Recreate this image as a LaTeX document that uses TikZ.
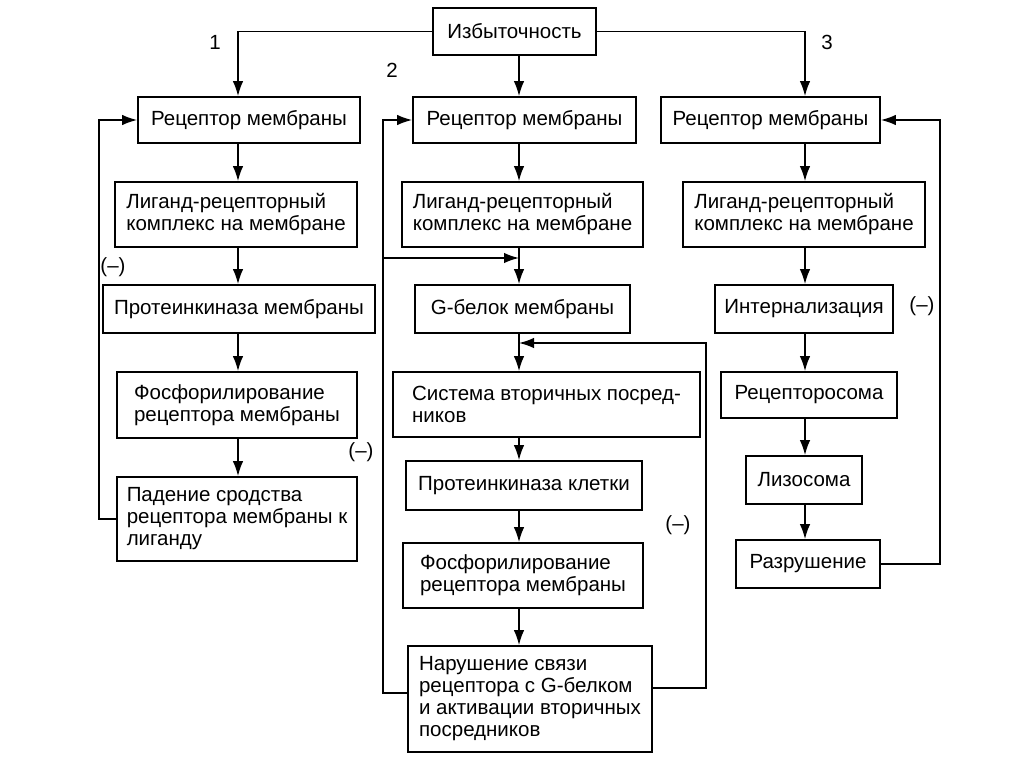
\documentclass[tikz,border=0pt]{standalone}
\usepackage{fontspec}
\setmainfont{Liberation Sans}
\usetikzlibrary{arrows.meta}

\begin{document}
\begin{tikzpicture}[
	x=1pt, y=-1pt,
	box/.style={draw, line width=1.7pt, align=left, inner sep=0pt,
		font=\fontsize{20.5}{22}\selectfont},
	pile/.style={line width=1.6pt, -{Latex[length=15pt,width=10.5pt]}},
	lbl/.style={font=\fontsize{20.5}{22}\selectfont},
	every node/.style={color=black}
	]
	\useasboundingbox (0,0) rectangle (1024,767);
	% columns
	\coordinate (c1) at (238,0);
	\coordinate (c2) at (519,0);
	\coordinate (c3) at (805,0);
	\coordinate (fb1) at (99,0);
	\coordinate (fb2) at (383,0);
	\coordinate (fb3) at (706,0);
	\coordinate (fb4) at (940,0);
	\coordinate (jn1) at (519,258);
	\coordinate (jn2) at (519,343);
	% top
	\node[box, minimum width=163, minimum height=47] (top) at (514.5,31.5) {Избыточность};
	% way 1
	\node[box, minimum width=222, minimum height=46] (a1) at (249,120) {Рецептор мембраны};
	\node[box, minimum width=242, minimum height=65] (a2) at (236,214.5) {Лиганд-рецепторный\\комплекс на мембране};
	\node[box, minimum width=272, minimum height=48] (a3) at (239,309) {Протеинкиназа мембраны};
	\node[box, minimum width=240, minimum height=66] (a4) at (237,405) {Фосфорилирование\\рецептора мембраны};
	\node[box, minimum width=240, minimum height=84] (a5) at (237,519) {Падение сродства\\рецептора мембраны к\\лиганду};
	% way 2
	\node[box, minimum width=223, minimum height=46] (b1) at (524.5,120) {Рецептор мембраны};
	\node[box, minimum width=241, minimum height=65] (b2) at (522.5,214.5) {Лиганд-рецепторный\\комплекс на мембране};
	\node[box, minimum width=215, minimum height=48] (b3) at (522.5,309) {G-белок мембраны};
	\node[box, minimum width=307, minimum height=65] (b4) at (546.5,404.5) {Система вторичных посред-\\ников};
	\node[box, minimum width=236, minimum height=49] (b5) at (524,485.5) {Протеинкиназа клетки};
	\node[box, minimum width=240, minimum height=65] (b6) at (523,575.5) {Фосфорилирование\\рецептора мембраны};
	\node[box, minimum width=244, minimum height=106] (b7) at (530,699) {Нарушение связи\\рецептора с G-белком\\и активации вторичных\\посредников};
	% way 3
	\node[box, minimum width=219, minimum height=46] (c1b) at (770.5,120) {Рецептор мембраны};
	\node[box, minimum width=242, minimum height=65] (c2b) at (804,214.5) {Лиганд-рецепторный\\комплекс на мембране};
	\node[box, minimum width=178, minimum height=48] (c3b) at (804,309) {Интернализация};
	\node[box, minimum width=176, minimum height=46] (c4b) at (809,395) {Рецепторосома};
	\node[box, minimum width=116, minimum height=48] (c5b) at (804,480) {Лизосома};
	\node[box, minimum width=144, minimum height=48] (c6b) at (808,564) {Разрушение};
	% labels
	\node[lbl] (n1) at (215,42) {1};
	\node[lbl] (n2) at (392,70) {2};
	\node[lbl] (n3) at (827,42) {3};
	\node[lbl] (m1) at (113,267) {(–)};
	\node[lbl] (m2) at (361,452) {(–)};
	\node[lbl] (m3) at (678,525) {(–)};
	\node[lbl] (m4) at (922,306) {(–)};
	% from top
	\draw[pile] (top.west) -| (a1.north -| c1);
	\draw[pile] (top.south -| c2) -- (b1.north -| c2);
	\draw[pile] (top.east) -| (c1b.north -| c3);
	% way 1 arrows
	\draw[pile] (a1.south -| c1) -- (a2.north -| c1);
	\draw[pile] (a2.south -| c1) -- (a3.north -| c1);
	\draw[pile] (a3.south -| c1) -- (a4.north -| c1);
	\draw[pile] (a4.south -| c1) -- (a5.north -| c1);
	\draw[pile] (a5.west) -- (a5.west -| fb1) -- (a1.west -| fb1) -- (a1.west);
	% way 2 arrows
	\draw[pile] (b1.south -| c2) -- (b2.north -| c2);
	\draw[pile] (b2.south -| c2) -- (b3.north -| c2);
	\draw[pile] (b3.south -| c2) -- (b4.north -| c2);
	\draw[pile] (b4.south -| c2) -- (b5.north -| c2);
	\draw[pile] (b5.south -| c2) -- (b6.north -| c2);
	\draw[pile] (b6.south -| c2) -- (b7.north -| c2);
	\draw[pile] ([yshift=6pt]b7.west) -- ([yshift=6pt]b7.west -| fb2) -- (b1.west -| fb2) -- (b1.west);
	\draw[pile] (fb2 |- jn1) -- (jn1);
	\draw[pile] ([yshift=11pt]b7.east) -- ([yshift=11pt]b7.east -| fb3) -- (fb3 |- jn2) -- (jn2);
	% way 3 arrows
	\draw[pile] (c1b.south -| c3) -- (c2b.north -| c3);
	\draw[pile] (c2b.south -| c3) -- (c3b.north -| c3);
	\draw[pile] (c3b.south -| c3) -- (c4b.north -| c3);
	\draw[pile] (c4b.south -| c3) -- (c5b.north -| c3);
	\draw[pile] (c5b.south -| c3) -- (c6b.north -| c3);
	\draw[pile] (c6b.east) -- (c6b.east -| fb4) -- (c1b.east -| fb4) -- (c1b.east);
\end{tikzpicture}
\end{document}
